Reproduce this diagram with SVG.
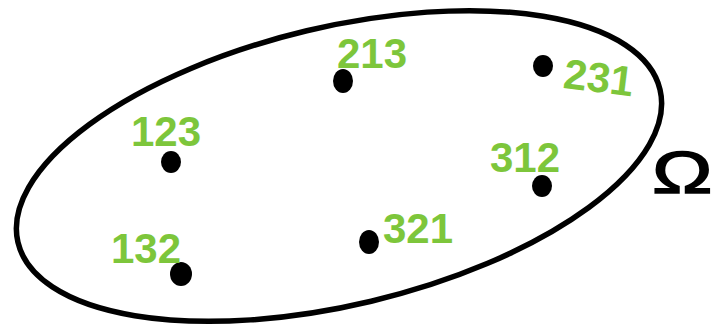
<svg xmlns="http://www.w3.org/2000/svg" width="719" height="325" viewBox="0 0 719 325">
<style>
.lbl{font-family:"Liberation Sans",Arial,sans-serif;font-weight:bold;font-size:42px;fill:#7dc63b}
.dot{fill:#000}
</style>
<rect width="719" height="325" fill="#fff"/>
<g id="omega-set">
<ellipse cx="339" cy="166" rx="330" ry="139" transform="rotate(-13.4 339 166)" fill="none" stroke="#000" stroke-width="5.5"/>
<text x="652" y="193" font-family="Liberation Sans,Arial,sans-serif" font-size="60" fill="#000" stroke="#000" stroke-width="1.5" transform="translate(652 0) scale(1.35 1) translate(-652 0)">Ω</text>
</g>
<g id="n123"><ellipse class="dot" cx="171" cy="162" rx="10" ry="11"/><text class="lbl" x="131" y="146">123</text></g>
<g id="n213"><ellipse class="dot" cx="343" cy="81" rx="10" ry="12"/><text class="lbl" x="337" y="68">213</text></g>
<g id="n231"><ellipse class="dot" cx="543" cy="66" rx="10" ry="11"/><text class="lbl" x="564" y="91" transform="rotate(7 590 75)">231</text></g>
<g id="n312"><ellipse class="dot" cx="542" cy="186" rx="10" ry="11"/><text class="lbl" x="490" y="172">312</text></g>
<g id="n321"><ellipse class="dot" cx="369" cy="242" rx="10" ry="12"/><text class="lbl" x="383" y="243">321</text></g>
<g id="n132"><ellipse class="dot" cx="181" cy="274" rx="11" ry="12"/><text class="lbl" x="111" y="263">132</text></g>
<g id="connectors"/>
</svg>
